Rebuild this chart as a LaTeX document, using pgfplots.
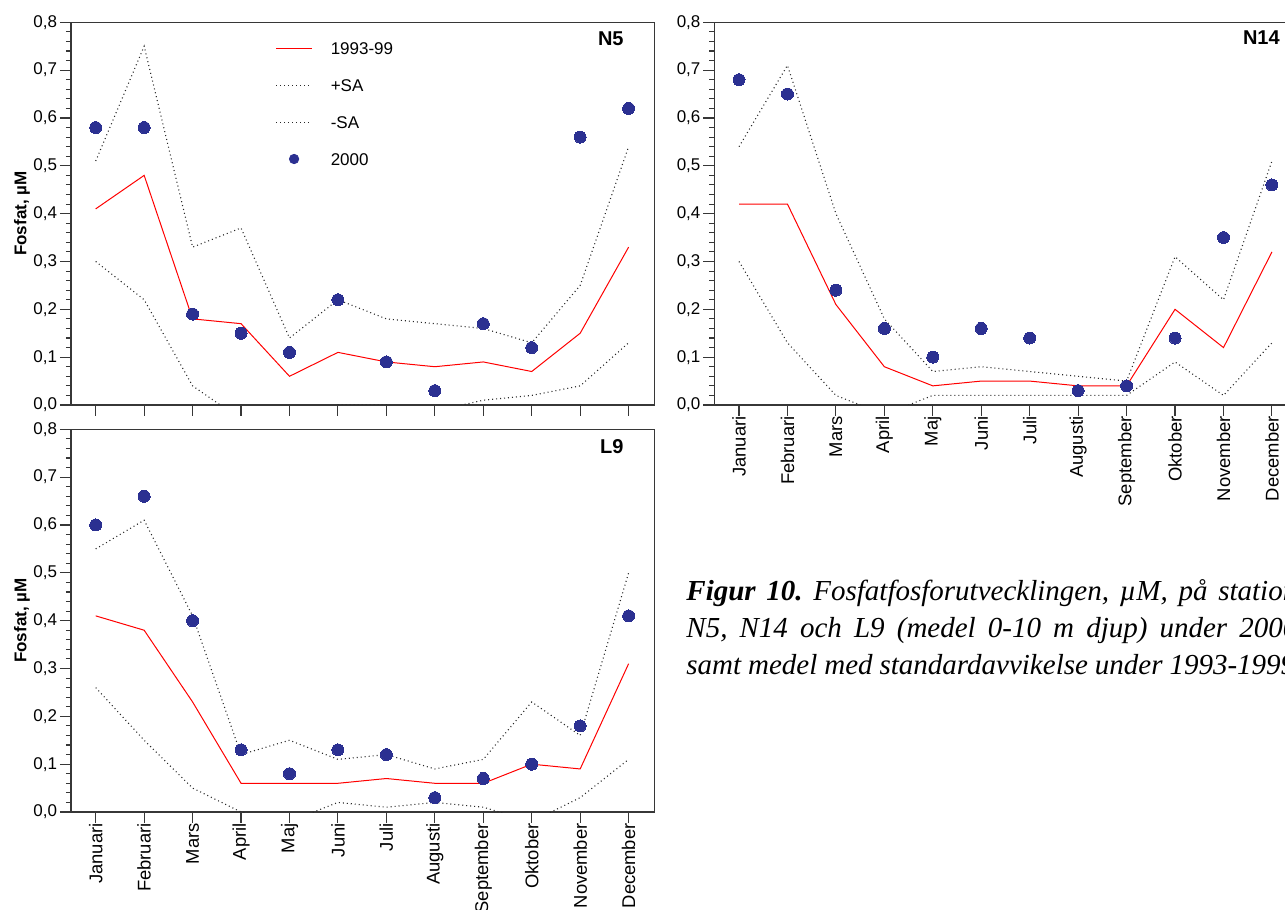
\documentclass[border=0pt]{standalone}
\usepackage{fontspec}
\setmainfont{Liberation Sans}
\newfontfamily\capfont{Liberation Serif}
\usepackage{pgfplots}
\pgfplotsset{compat=1.18}
\definecolor{navy}{RGB}{43,48,145}
\definecolor{axgray}{RGB}{55,55,55}
\definecolor{sagray}{RGB}{40,40,40}

\pgfplotsset{
  panel/.style={
    scale only axis, width=291.65pt, height=191.35pt,
    xmin=-0.51, xmax=11.53, ymin=0, ymax=0.8,
    clip mode=individual,
    axis line style={axgray, line width=0.6pt},
    every tick/.style={axgray, line width=0.55pt},
    tick align=outside, major tick length=5.5pt, minor tick length=2.5pt,
    xtick={0,1,2,3,4,5,6,7,8,9,10,11},
    ytick={0,0.1,0.2,0.3,0.4,0.5,0.6,0.7,0.8},
    minor y tick num=4,
    xtick pos=lower, ytick pos=left,
    yticklabel style={font=\fontsize{8.5}{10}\selectfont, inner sep=0pt, xshift=-1.25pt},
    /pgf/number format/.cd, fixed, fixed zerofill, precision=1, use comma, assume math mode=true,
    /pgfplots/.cd,
  },
  months/.style={
    xticklabels={Januari,Februari,Mars,April,Maj,Juni,Juli,Augusti,September,Oktober,November,December},
    xticklabel style={rotate=90, anchor=east, inner sep=0pt, font=\fontsize{9.2}{11}\selectfont},
  },
  nomonths/.style={xticklabels={}},
  mean/.style={red, line width=0.5pt, mark=none, forget plot},
  sa/.style={sagray, line width=0.55pt, dash pattern=on 0.5pt off 1.5pt, mark=none, forget plot},
  obs/.style={navy, only marks, mark=*, mark size=3pt, mark options={fill=navy, draw=navy, line width=0pt}, forget plot},
}

\begin{document}
\begin{tikzpicture}
\path[use as bounding box] (0,0) rectangle (642.5pt,-455pt);
\begin{scope}
\clip (0,0) rectangle (642.5pt,-455pt);

% ---------------- N5 ----------------
\begin{axis}[panel, nomonths, at={(35.5pt,-11.15pt)}, anchor=north west,
  legend style={draw=none, fill=none, at={(rel axis cs:0.3497,0.948)}, anchor=north west,
    font=\fontsize{8.5}{10}\selectfont, row sep=12.4pt, inner sep=0pt,
    nodes={inner sep=0pt, text height=6pt, text depth=0pt},
    /tikz/every odd column/.append style={column sep=9pt}},
  legend cell align=left]
\addlegendimage{legend image code/.code={\draw[red, line width=0.7pt] (0pt,0pt) -- (18pt,0pt);}}
\addlegendentry{1993-99}
\addlegendimage{legend image code/.code={\draw[sagray, line width=0.55pt, dash pattern=on 0.5pt off 1.5pt] (0pt,0pt) -- (18pt,0pt);}}
\addlegendentry{+SA}
\addlegendimage{legend image code/.code={\draw[sagray, line width=0.55pt, dash pattern=on 0.5pt off 1.5pt] (0pt,0pt) -- (18pt,0pt);}}
\addlegendentry{-SA}
\addlegendimage{legend image code/.code={\fill[navy] (9pt,0pt) circle (2.35pt);}}
\addlegendentry{2000}
\addplot[mean] coordinates {(0,0.41)(1,0.48)(2,0.18)(3,0.17)(4,0.06)(5,0.11)(6,0.09)(7,0.08)(8,0.09)(9,0.07)(10,0.15)(11,0.33)};
\addplot[sa] coordinates {(0,0.51)(1,0.75)(2,0.33)(3,0.37)(4,0.14)(5,0.22)(6,0.18)(7,0.17)(8,0.16)(9,0.13)(10,0.25)(11,0.54)};
\addplot[sa] coordinates {(0,0.30)(1,0.22)(2,0.04)(3,-0.03)(4,-0.04)(5,0.00)(6,0.00)(7,-0.013)(8,0.01)(9,0.02)(10,0.04)(11,0.13)};
\addplot[obs] coordinates {(0,0.58)(1,0.58)(2,0.19)(3,0.15)(4,0.11)(5,0.22)(6,0.09)(7,0.03)(8,0.17)(9,0.12)(10,0.56)(11,0.62)};
\node[anchor=north east, inner sep=0pt, font=\fontsize{10}{12}\selectfont\bfseries] at (rel axis cs:0.948,0.9754) {N5};
\node[rotate=90, anchor=base, inner sep=0pt, font=\fontsize{8.5}{10}\selectfont\bfseries] at ([xshift=-22.25pt]rel axis cs:0,0.5) {Fosfat, µM};
\end{axis}

% ---------------- L9 ----------------
\begin{axis}[panel, months, at={(35.5pt,-214.65pt)}, anchor=north west]
\addplot[mean] coordinates {(0,0.41)(1,0.38)(2,0.23)(3,0.06)(4,0.06)(5,0.06)(6,0.07)(7,0.06)(8,0.06)(9,0.10)(10,0.09)(11,0.31)};
\addplot[sa] coordinates {(0,0.55)(1,0.61)(2,0.41)(3,0.12)(4,0.15)(5,0.11)(6,0.12)(7,0.09)(8,0.11)(9,0.23)(10,0.16)(11,0.50)};
\addplot[sa] coordinates {(0,0.26)(1,0.15)(2,0.05)(3,0.00)(4,-0.02)(5,0.02)(6,0.01)(7,0.02)(8,0.01)(9,-0.02)(10,0.03)(11,0.11)};
\addplot[obs] coordinates {(0,0.60)(1,0.66)(2,0.40)(3,0.13)(4,0.08)(5,0.13)(6,0.12)(7,0.03)(8,0.07)(9,0.10)(10,0.18)(11,0.41)};
\node[anchor=north east, inner sep=0pt, font=\fontsize{10}{12}\selectfont\bfseries] at (rel axis cs:0.948,0.9754) {L9};
\node[rotate=90, anchor=base, inner sep=0pt, font=\fontsize{8.5}{10}\selectfont\bfseries] at ([xshift=-22.25pt]rel axis cs:0,0.5) {Fosfat, µM};
\end{axis}

% ---------------- N14 ----------------
\begin{axis}[panel, months, at={(357.15pt,-11.15pt)}, anchor=north west]
\addplot[mean] coordinates {(0,0.42)(1,0.42)(2,0.21)(3,0.08)(4,0.04)(5,0.05)(6,0.05)(7,0.04)(8,0.04)(9,0.20)(10,0.12)(11,0.32)};
\addplot[sa] coordinates {(0,0.54)(1,0.71)(2,0.40)(3,0.18)(4,0.07)(5,0.08)(6,0.07)(7,0.06)(8,0.05)(9,0.31)(10,0.22)(11,0.51)};
\addplot[sa] coordinates {(0,0.30)(1,0.13)(2,0.02)(3,-0.02)(4,0.02)(5,0.02)(6,0.02)(7,0.02)(8,0.02)(9,0.09)(10,0.02)(11,0.13)};
\addplot[obs] coordinates {(0,0.68)(1,0.65)(2,0.24)(3,0.16)(4,0.10)(5,0.16)(6,0.14)(7,0.03)(8,0.04)(9,0.14)(10,0.35)(11,0.46)};
\node[anchor=north east, inner sep=0pt, font=\fontsize{10}{12}\selectfont\bfseries] at (rel axis cs:0.970,0.978) {N14};
\end{axis}

% ---------------- caption ----------------
\begin{scope}[every node/.style={anchor=base west, inner sep=0pt, font=\capfont\fontsize{14.5}{17}\selectfont\frenchspacing}]
\node at (343pt,-300pt) {\itshape\spaceskip=0.25em plus 3em minus 0.15em\makebox[332pt][s]{\textbf{Figur 10.} Fosfatfosforutvecklingen, µM, på stationerna}};
\node at (343pt,-318.5pt) {\itshape\spaceskip=0.25em plus 3em minus 0.15em\makebox[305.5pt][s]{N5, N14 och L9 (medel 0-10 m djup) under 2000}};
\node at (343pt,-337pt) {\itshape\spaceskip=0.25em plus 3em minus 0.2em\makebox[308pt][s]{samt medel med standardavvikelse under 1993-1999.}};
\end{scope}
\end{scope}
\end{tikzpicture}
\end{document}
